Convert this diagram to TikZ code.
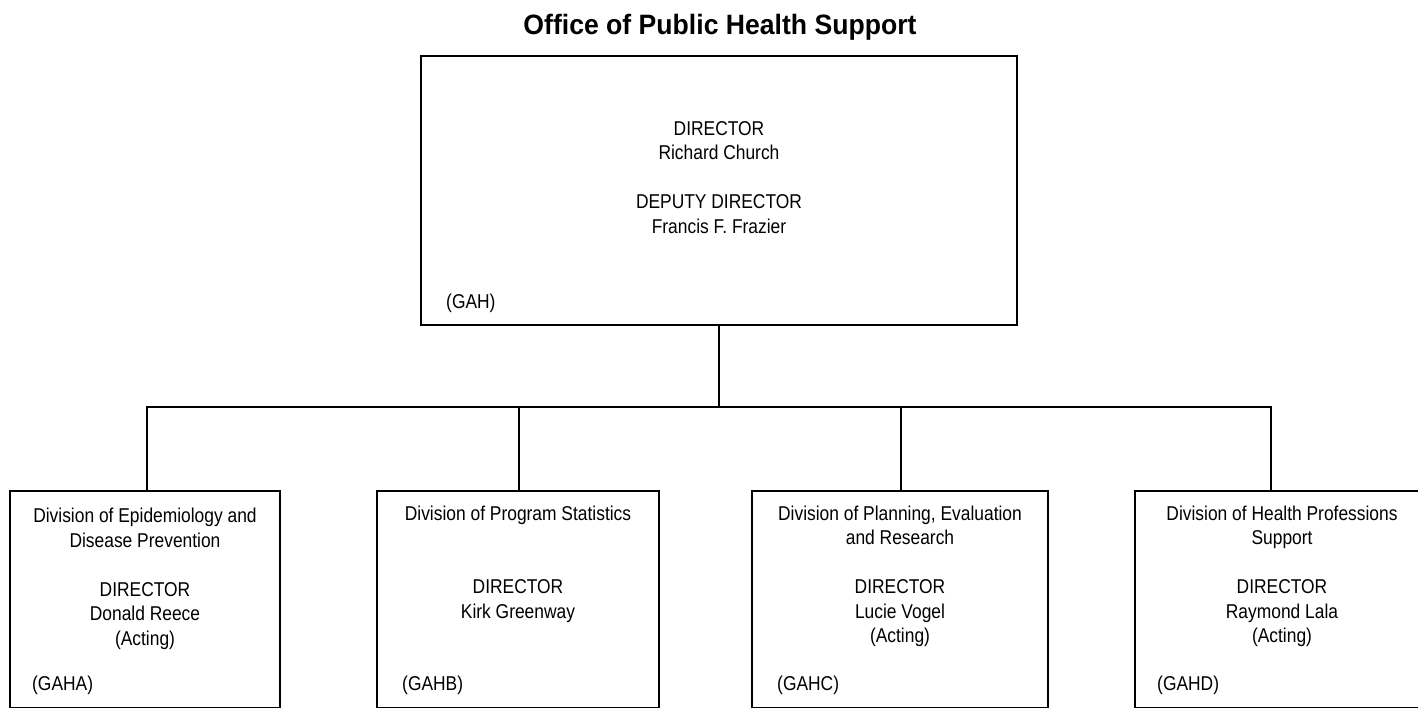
\documentclass[tikz,border=0pt]{standalone}
\usepackage{fontspec}
\setmainfont{Liberation Sans}[FakeStretch=0.87]
\newfontfamily\titlefont{Liberation Sans}[FakeStretch=0.95]
\begin{document}
\begin{tikzpicture}[x=1pt,y=-1pt,
  box/.style={draw=black, line width=2pt, rectangle, inner sep=0pt},
  conn/.style={draw=black, line width=2pt},
  txt/.style={align=center, inner sep=0pt, anchor=base, font=\fontsize{20}{24.5}\selectfont},
  code/.style={inner sep=0pt, anchor=base west, font=\fontsize{20}{24.5}\selectfont},
  ttl/.style={inner sep=0pt, anchor=base, font=\titlefont\bfseries\fontsize{28}{32}\selectfont}]
\fill[white] (0,0) rectangle (1418,707);
\useasboundingbox (0,0) rectangle (1418,707);
\clip (0,0) rectangle (1418,707);

\node[ttl] (title) at (720,34) {Office of Public Health Support};

% top box
\node[box, minimum width=596pt, minimum height=269pt] (top) at (719,190.5) {};
\node[txt] (toptxt) at (719,233) {DIRECTOR\\Richard Church\\[24.5pt]DEPUTY DIRECTOR\\Francis F. Frazier};
\node[code] (gah) at (446,308) {(GAH)};

% division boxes
\node[box, minimum width=270pt, minimum height=216.5pt] (b1) at (145,599.25) {};
\node[box, minimum width=282pt, minimum height=216.5pt] (b2) at (518,599.25) {};
\node[box, minimum width=296pt, minimum height=216.5pt] (b3) at (900,599.25) {};
\node[box, minimum width=294pt, minimum height=216.5pt] (b4) at (1282,599.25) {};

\node[txt] (t1) at (145,645) {Division of Epidemiology and\\Disease Prevention\\[24.5pt]DIRECTOR\\Donald Reece\\(Acting)};
\node[txt] (t2) at (518,618) {Division of Program Statistics\\[49pt]DIRECTOR\\Kirk Greenway};
\node[txt] (t3) at (900,642.5) {Division of Planning, Evaluation\\and Research\\[24.5pt]DIRECTOR\\Lucie Vogel\\(Acting)};
\node[txt] (t4) at (1282,642.5) {Division of Health Professions\\Support\\[24.5pt]DIRECTOR\\Raymond Lala\\(Acting)};

\node[code] (c1) at (32,690) {(GAHA)};
\node[code] (c2) at (402,690) {(GAHB)};
\node[code] (c3) at (777,690) {(GAHC)};
\node[code] (c4) at (1157,690) {(GAHD)};

% connectors
\coordinate (busM) at (719,407);
\coordinate (d1) at (147,407);
\coordinate (d2) at (519,407);
\coordinate (d3) at (901,407);
\coordinate (d4) at (1271,407);
\draw[conn] (top.south -| busM) -- (busM);
\draw[conn, line cap=rect] (d1) -- (d4);
\draw[conn] (d1) -- (d1 |- b1.north);
\draw[conn] (d2) -- (d2 |- b2.north);
\draw[conn] (d3) -- (d3 |- b3.north);
\draw[conn] (d4) -- (d4 |- b4.north);
\end{tikzpicture}
\end{document}
